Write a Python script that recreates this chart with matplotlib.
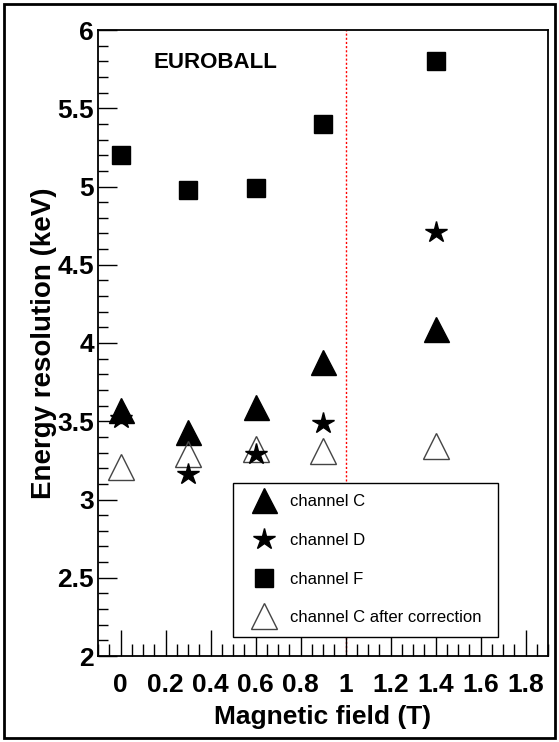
import matplotlib
matplotlib.use("Agg")
import matplotlib.pyplot as plt
from matplotlib.ticker import MultipleLocator
from matplotlib.patches import Rectangle

plt.rcParams['font.family'] = ['Liberation Sans', 'DejaVu Sans']

# data
field = [0.0, 0.3, 0.6, 0.9, 1.4]
chan_c = [3.57, 3.43, 3.59, 3.88, 4.09]
chan_d = [3.52, 3.16, 3.29, 3.49, 4.71]
chan_f = [5.20, 4.98, 4.99, 5.40, 5.80]
chan_c_corr = [3.21, 3.29, 3.32, 3.31, 3.34]

fig = plt.figure(figsize=(5.59, 7.42), dpi=100)
ax = fig.add_axes([98/559, 1 - 656/742, 450/559, 626/742])

ax.plot(field, chan_f, 's', color='black', ms=13, label='channel F', zorder=3)
ax.plot(field, chan_c, '^', color='black', ms=18, label='channel C', zorder=3)
ax.plot(field, chan_d, '*', color='black', ms=16, label='channel D', zorder=4)
ax.plot(field, chan_c_corr, '^', color='#444444', mfc='none', mew=1.0, ms=19,
        label='channel C after correction', zorder=3)

ax.axvline(1.0, color='red', ls=(0, (1.5, 1.5)), lw=1.0, zorder=1)

ax.set_xlim(-0.1, 1.9)
ax.set_ylim(2, 6)
ax.xaxis.set_minor_locator(MultipleLocator(0.05))
ax.yaxis.set_minor_locator(MultipleLocator(0.1))
ax.tick_params(which='both', direction='in', top=False, right=False, width=1.0)
ax.tick_params(axis='x', which='major', length=19, labelsize=19, pad=12)
ax.tick_params(axis='x', which='minor', length=9)
ax.tick_params(axis='y', which='major', length=14, labelsize=19, pad=3)
ax.tick_params(axis='y', which='minor', length=7)
ax.set_xticks([0, 0.2, 0.4, 0.6, 0.8, 1.0, 1.2, 1.4, 1.6, 1.8])
ax.set_xticklabels(['0', '0.2', '0.4', '0.6', '0.8', '1', '1.2', '1.4', '1.6', '1.8'],
                   fontweight='bold')
ax.set_yticks([2, 2.5, 3, 3.5, 4, 4.5, 5, 5.5, 6])
ax.set_yticklabels(['2', '2.5', '3', '3.5', '4', '4.5', '5', '5.5', '6'],
                   fontweight='bold')
for s in ax.spines.values():
    s.set_linewidth(1.3)

ax.set_xlabel('Magnetic field (T)', fontsize=19, fontweight='bold', labelpad=6)
ax.set_ylabel('Energy resolution (keV)', fontsize=20, fontweight='bold', labelpad=0)

ax.text(0.147, 5.79, 'EUROBALL', fontsize=16, fontweight='bold', va='center')

h, l = ax.get_legend_handles_labels()
order = [1, 2, 0, 3]
leg = ax.legend([h[i] for i in order], [l[i] for i in order],
                loc='lower left', bbox_to_anchor=(0.3, 0.0304, 0.589, 0.2476),
                mode='expand', fancybox=False, edgecolor='black', framealpha=1,
                fontsize=12, labelspacing=1.42, handlelength=2.3, handletextpad=0.4,
                borderpad=0.7, borderaxespad=0, markerscale=1.0)
leg.get_frame().set_linewidth(1.0)

# outer frame around the whole figure
fig.patches.append(Rectangle((4/559, 4/742), 551/559, 734/742, transform=fig.transFigure,
                             fill=False, edgecolor='black', lw=2))

fig.savefig('out.png', dpi=100)
